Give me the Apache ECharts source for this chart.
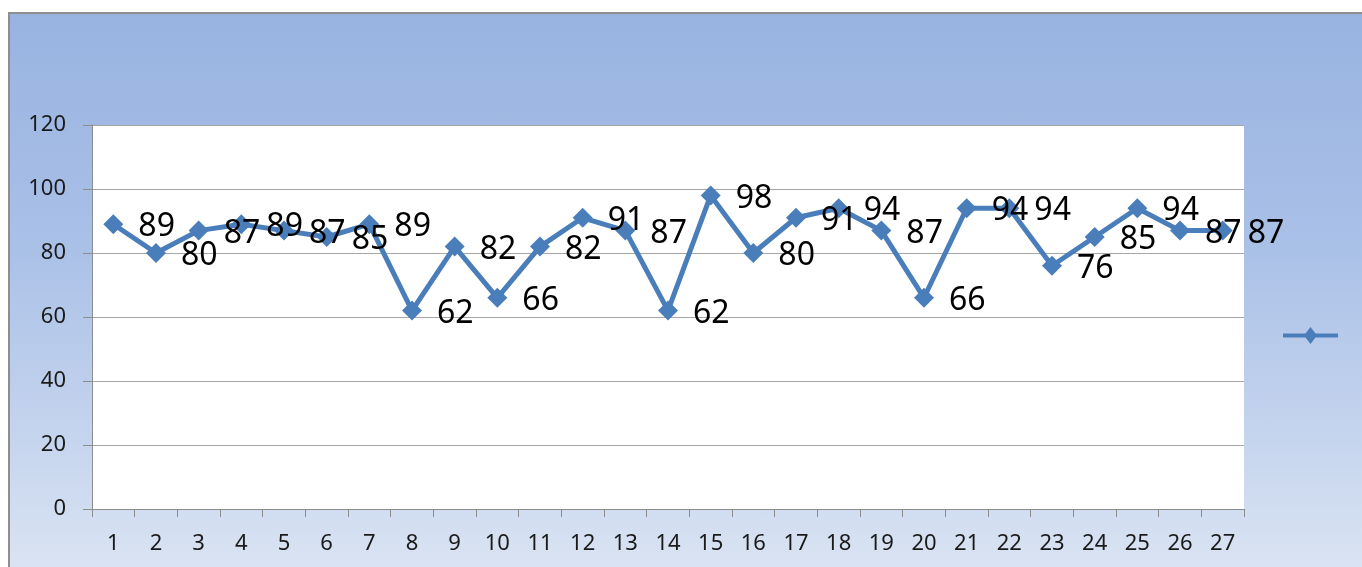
<!DOCTYPE html>
<html>
<head>
<meta charset="utf-8">
<script src="https://cdn.jsdelivr.net/npm/echarts@6/dist/echarts.min.js"></script>
<style>
html,body{margin:0;padding:0;background:#fff;width:1362px;height:567px;overflow:hidden;}
#frame{position:absolute;left:8px;top:12px;width:1370px;height:570px;border-left:2px solid #8e8e8e;border-top:2px solid #8e8e8e;background:linear-gradient(to bottom,#99b3e1 0%,#a9c0e7 40%,#c6d5ee 75%,#dce5f3 100%);}
#chart{position:absolute;left:0;top:0;width:1362px;height:567px;}
</style>
</head>
<body>
<div id="frame"></div>
<div id="chart"></div>
<script>
const categories = ['1','2','3','4','5','6','7','8','9','10','11','12','13','14','15','16','17','18','19','20','21','22','23','24','25','26','27'];
const values = [89,80,87,89,87,85,89,62,82,66,82,91,87,62,98,80,91,94,87,66,94,94,76,85,94,87,87];
const yTicks = {min:0, max:120, interval:20};

const chart = echarts.init(document.getElementById('chart'), null, {renderer:'canvas'});
const font = '"Noto Sans", "DejaVu Sans", sans-serif';
chart.setOption({
  backgroundColor: 'transparent',
  animation: false,
  grid: {left:92, top:125, width:1152, height:384, show:true, backgroundColor:'#ffffff', borderWidth:0},
  legend: {
    show: true, left: 1283, top: 327, orient: 'vertical', padding: 0,
    itemWidth: 55, itemHeight: 17,
    icon: 'path://M0,6.5 L22.5,6.5 L27.5,0 L32.5,6.5 L55,6.5 L55,10.5 L32.5,10.5 L27.5,17 L22.5,10.5 L0,10.5 Z',
    textStyle: {fontSize: 1, color: 'transparent'},
    data: [{name: ' '}]
  },
  xAxis: {
    type: 'category', data: categories, boundaryGap: true,
    axisLine: {lineStyle:{color:'#8c8c8c', width:1}},
    axisTick: {show:true, alignWithLabel:false, length:8, lineStyle:{color:'#8c8c8c'}},
    axisLabel: {fontFamily: font, fontSize: 22, color:'#1a1a1a', margin: 24, interval: 0}
  },
  yAxis: {
    type: 'value', min: yTicks.min, max: yTicks.max, interval: yTicks.interval,
    axisLine: {show:true, lineStyle:{color:'#8c8c8c', width:1}},
    axisTick: {show:true, length:9, lineStyle:{color:'#8c8c8c'}},
    splitLine: {show:true, lineStyle:{color:'#a6a6a6', width:1}},
    axisLabel: {fontFamily: font, fontSize: 22, color:'#1a1a1a', margin: 26}
  },
  series: [{
    name: ' ', type: 'line', data: values,
    symbol: 'diamond', symbolSize: 20,
    lineStyle: {color:'#4a7ebb', width:5},
    itemStyle: {color:'#4a7ebb'},
    label: {show:true, position:'right', distance: 15, offset:[0,3], fontFamily: font, fontSize: 32, color:'#000'}
  }]
});
</script>
</body>
</html>
